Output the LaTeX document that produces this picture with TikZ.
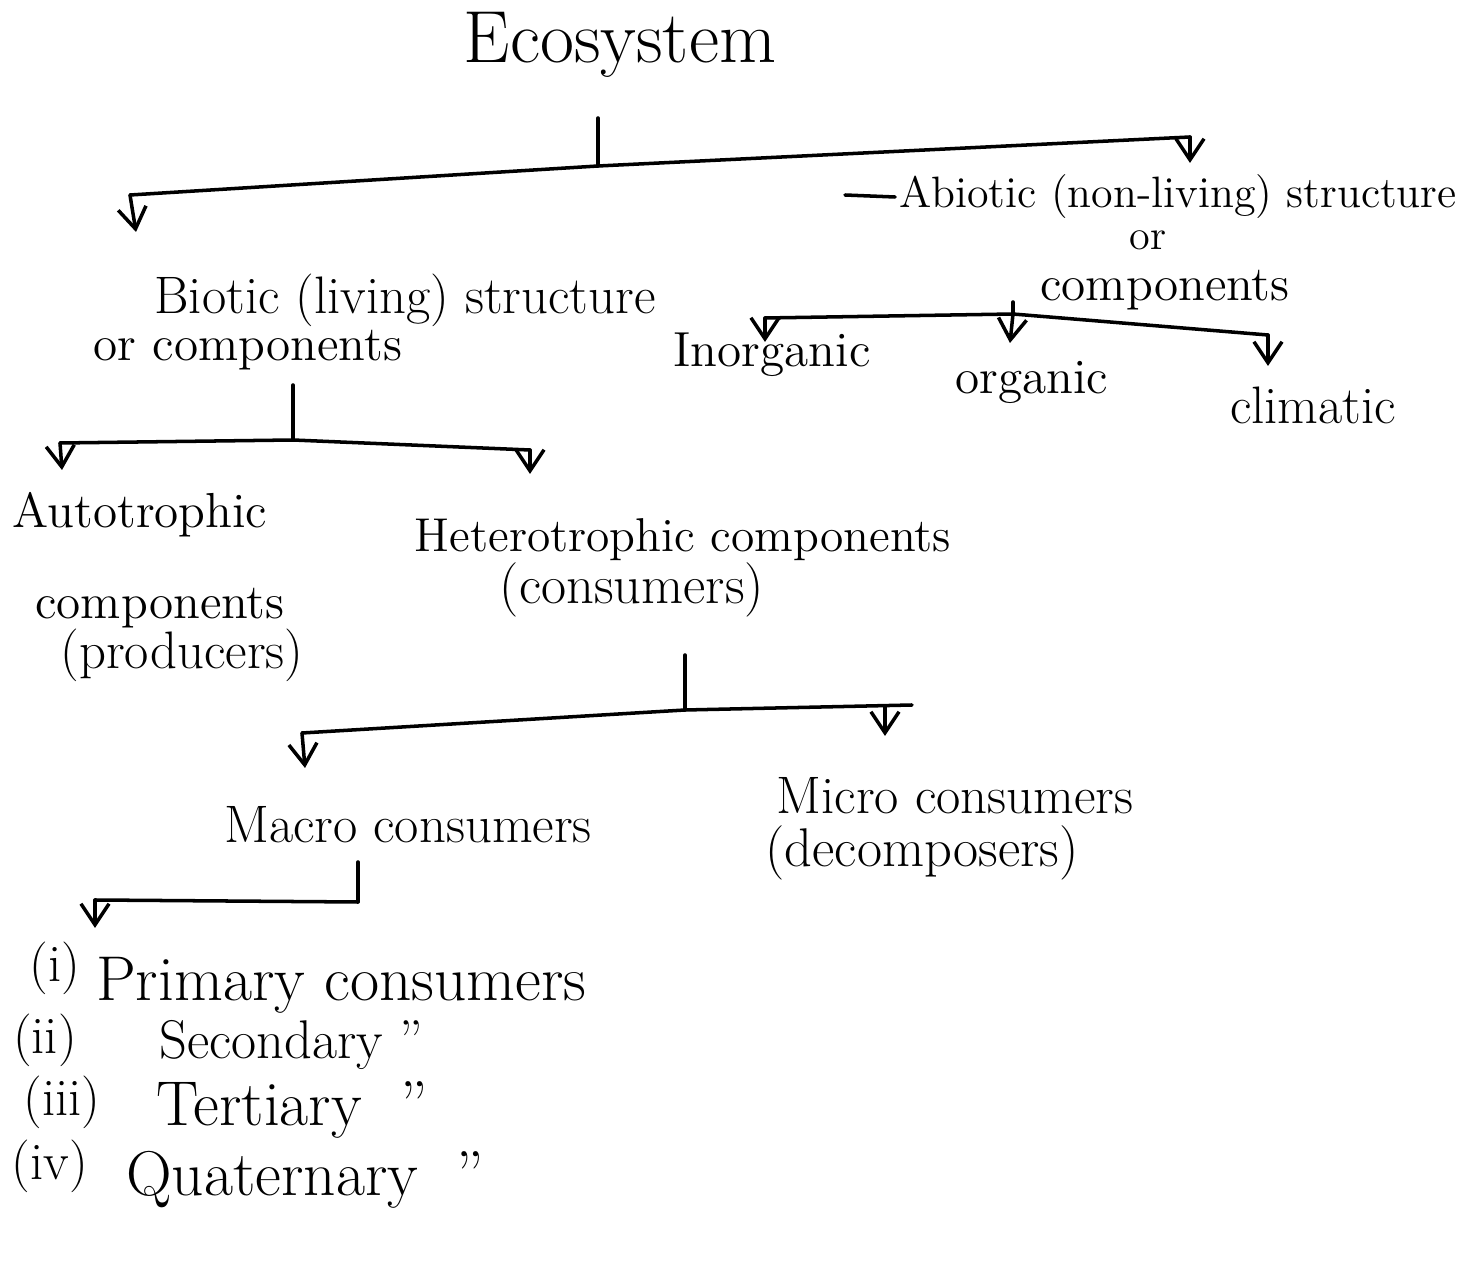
\documentclass[tikz,border=0pt]{standalone}
\usetikzlibrary{arrows.meta}
\begin{document}
\begin{tikzpicture}[x=0.01cm,y=-0.01cm,
  conn/.style={line width=1pt, black, line cap=round, line join=round},
  arr/.style={conn, -{Straight Barb[length=6pt,width=8pt,line width=1pt]}},
  lbl/.style={inner sep=1pt, font=\fontsize{14}{16}\selectfont},
  big/.style={inner sep=1pt, font=\fontsize{18}{20}\selectfont},
  title/.style={inner sep=1pt, font=\fontsize{21}{24}\selectfont}]
\useasboundingbox (0,0) rectangle (1462,1282);
\fill[white] (0,0) rectangle (1462,1282);

% ---------- nodes ----------
\node[title] (eco) at (620,45) {Ecosystem};

\node[lbl, font=\fontsize{15}{17}\selectfont] (bio1) at (405,300) {Biotic (living) structure};
\node[lbl] (bio2) at (248,350) {or components};

\node[lbl, font=\fontsize{12.5}{14}\selectfont] (abio1) at (1178,197) {Abiotic (non-living) structure};
\node[lbl, font=\fontsize{12}{14}\selectfont, inner sep=0pt] (abio2) at (1148,240) {or};
\node[lbl, inner sep=0pt] (abio3) at (1165,290) {components};

\node[lbl] (inorg) at (772,355) {Inorganic};
\node[lbl] (org) at (1032,382) {organic};
\node[lbl, font=\fontsize{15}{17}\selectfont] (clim) at (1313,405) {climatic};

\node[lbl] (auto1) at (140,515) {Autotrophic};
\node[lbl] (auto2) at (160,608) {components};
\node[lbl, font=\fontsize{15}{17}\selectfont] (auto3) at (182,655) {(producers)};

\node[lbl, font=\fontsize{13.5}{16}\selectfont] (het1) at (683,540) {Heterotrophic components};
\node[lbl, font=\fontsize{15.5}{17}\selectfont] (het2) at (632,590) {(consumers)};

\node[lbl, font=\fontsize{15}{17}\selectfont] (macro) at (408,825) {Macro consumers};
\node[lbl, font=\fontsize{15}{17}\selectfont] (micro1) at (955,796) {Micro consumers};
\node[lbl, font=\fontsize{15.5}{17}\selectfont] (micro2) at (922,853) {(decomposers)};

\node[lbl, font=\fontsize{15}{17}\selectfont] (n1) at (55,968) {(i)};
\node[big, anchor=west] (w1) at (92,985) {Primary consumers};
\node[lbl, font=\fontsize{15}{17}\selectfont] (n2) at (45,1040) {(ii)};
\node[lbl, font=\fontsize{15.5}{17}\selectfont, anchor=west] (w2) at (155,1045) {Secondary ''};
\node[lbl, font=\fontsize{15}{17}\selectfont] (n3) at (62,1102) {(iii)};
\node[big, anchor=west] (w3) at (152,1110) {Tertiary \ ''};
\node[lbl, font=\fontsize{15}{17}\selectfont] (n4) at (50,1166) {(iv)};
\node[big, anchor=west] (w4) at (122,1180) {Quaternary \ ''};

% ---------- junction coordinates ----------
\coordinate (t1) at (598,118);
\coordinate (j1) at (598,166);
\coordinate (bl) at (130,195);
\coordinate (br) at (1190,137);
\coordinate (blA) at (136,232);
\coordinate (brA) at (1190,163);
\coordinate (ab0) at (845,195);

\coordinate (t2) at (293,385);
\coordinate (j2) at (293,440);
\coordinate (cl2) at (60,443);
\coordinate (cr2) at (530,450);
\coordinate (cl2A) at (62,470);
\coordinate (cr2A) at (530,474);

\coordinate (t3) at (1013,302);
\coordinate (j3) at (1013,314);
\coordinate (cl3) at (765,318);
\coordinate (cr3) at (1268,335);
\coordinate (cl3A) at (765,342);
\coordinate (c3A) at (1010,343);
\coordinate (cr3A) at (1268,366);

\coordinate (t4) at (685,655);
\coordinate (j4) at (685,710);
\coordinate (cl4) at (302,733);
\coordinate (cr4) at (912,705);
\coordinate (cr4B) at (885,706);
\coordinate (cl4A) at (305,768);
\coordinate (cr4A) at (885,736);

\coordinate (t5) at (358,862);
\coordinate (j5) at (358,902);
\coordinate (cl5) at (95,900);
\coordinate (cl5A) at (95,928);

% ---------- connectors ----------
\draw[conn] (t1) -- (j1);
\draw[conn] (bl) -- (j1) -- (br);
\draw[arr] (bl) -- (blA);
\draw[arr] (br) -- (brA);
\draw[conn] (ab0) -- (abio1.west);

\draw[conn] (t2) -- (j2);
\draw[conn] (cl2) -- (j2) -- (cr2);
\draw[arr] (cl2) -- (cl2A);
\draw[arr] (cr2) -- (cr2A);

\draw[conn] (t3) -- (j3);
\draw[conn] (cl3) -- (j3) -- (cr3);
\draw[arr] (cl3) -- (cl3A);
\draw[arr] (j3) -- (c3A);
\draw[arr] (cr3) -- (cr3A);

\draw[conn] (t4) -- (j4);
\draw[conn] (cl4) -- (j4) -- (cr4);
\draw[arr] (cl4) -- (cl4A);
\draw[arr] (cr4B) -- (cr4A);

\draw[conn] (t5) -- (j5);
\draw[conn] (cl5) -- (j5);
\draw[arr] (cl5) -- (cl5A);
\end{tikzpicture}
\end{document}
